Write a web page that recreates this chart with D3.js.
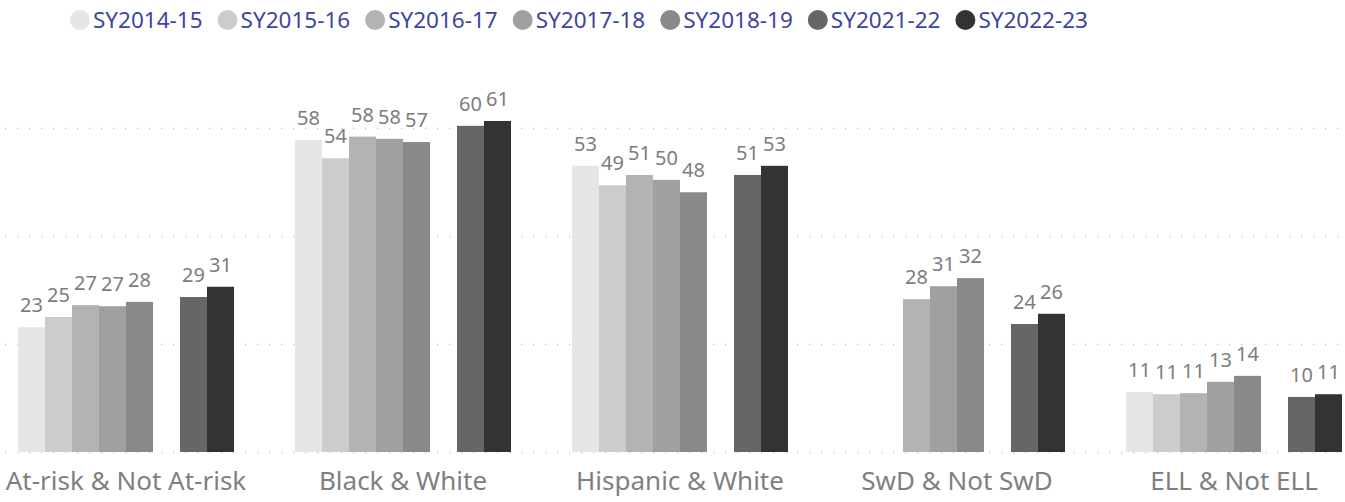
<!DOCTYPE html>
<html><head><meta charset="utf-8">
<script src="https://cdn.jsdelivr.net/npm/d3@7"></script>
<style>body{margin:0;background:#fff;} svg{display:block;}</style>
</head><body>
<svg id="c" width="1345" height="502"></svg>
<script>
const categories = ["At-risk & Not At-risk","Black & White","Hispanic & White","SwD & Not SwD","ELL & Not ELL"];
const seriesNames = ["SY2014-15","SY2015-16","SY2016-17","SY2017-18","SY2018-19","SY2021-22","SY2022-23"];
const slotKeys = ["SY2014-15","SY2015-16","SY2016-17","SY2017-18","SY2018-19","(gap)","SY2021-22","SY2022-23"];
const seriesColors = ["#e6e6e6","#cccccc","#b3b3b3","#a0a0a0","#898989","#666666","#333333"];
const sy201415 = [23.1, 57.8, 53.0, null, 11.1];
const sy201516 = [25.0, 54.4, 49.4, null, 10.7];
const sy201617 = [27.2, 58.4, 51.3, 28.3, 10.9];
const sy201718 = [27.0, 58.0, 50.4, 30.7, 13.0];
const sy201819 = [27.8, 57.4, 48.1, 32.2, 14.1];
const sy202122 = [28.7, 60.4, 51.3, 23.7, 10.2];
const sy202223 = [30.6, 61.3, 53.0, 25.6, 10.7];
const seriesValues = [sy201415, sy201516, sy201617, sy201718, sy201819, sy202122, sy202223];
const gridTicks = [0, 20, 40, 60];

const svg = d3.select("#c");
const font = "'Segoe UI','Noto Sans','Open Sans',sans-serif";

const x0 = d3.scaleBand().domain(categories).range([-12.5, 1372.5]).paddingInner(0.2202).paddingOuter(0.1101);
const x1 = d3.scaleBand().domain(slotKeys).range([0, x0.bandwidth()]);
const y = d3.scaleLinear().domain([0, 60]).range([452, 128]);

// gridlines
svg.append("g").selectAll("line").data(gridTicks).join("line")
  .attr("x1", 5).attr("x2", 1345)
  .attr("y1", d => y(d)+0.5).attr("y2", d => y(d)+0.5)
  .attr("stroke", "#c9cde0").attr("stroke-width", 1.5)
  .attr("stroke-dasharray", "1.5,10.5");

// bars
const groups = svg.append("g").selectAll("g").data(categories).join("g")
  .attr("transform", d => `translate(${x0(d)},0)`);

const barData = (c, ci) => seriesNames.map((s, si) => ({s, si, v: seriesValues[si][ci]})).filter(d => d.v != null);

groups.each(function(c, ci) {
  const g = d3.select(this);
  const data = barData(c, ci);
  g.selectAll("rect").data(data).join("rect")
    .attr("x", d => x1(d.s)).attr("width", x1.bandwidth())
    .attr("y", d => y(d.v)).attr("height", d => y(0) - y(d.v))
    .attr("fill", d => seriesColors[d.si]);
  g.selectAll("text").data(data).join("text")
    .attr("x", d => x1(d.s) + x1.bandwidth()/2)
    .attr("y", d => y(d.v) - 15)
    .attr("text-anchor", "middle")
    .attr("font-family", font).attr("font-size", 20)
    .attr("fill", "#7d7d7d")
    .text(d => Math.round(d.v));
});

// category labels
svg.append("g").selectAll("text").data(categories).join("text")
  .attr("x", d => x0(d) + x0.bandwidth()/2)
  .attr("y", 490)
  .attr("text-anchor", "middle")
  .attr("font-family", font).attr("font-size", 26)
  .attr("fill", "#7f7f7f")
  .text(d => d);

// legend
const lg = svg.append("g");
let lx = 70;
seriesNames.forEach((s, i) => {
  lg.append("circle").attr("cx", lx + 10).attr("cy", 20).attr("r", 10).attr("fill", seriesColors[i]);
  const t = lg.append("text").attr("x", lx + 23).attr("y", 28)
    .attr("font-family", font).attr("font-size", 22.5).attr("fill", "#3c46a0").text(s);
  const w = t.node().getComputedTextLength();
  lx = lx + 23 + w + 15;
});
</script>
</body></html>
